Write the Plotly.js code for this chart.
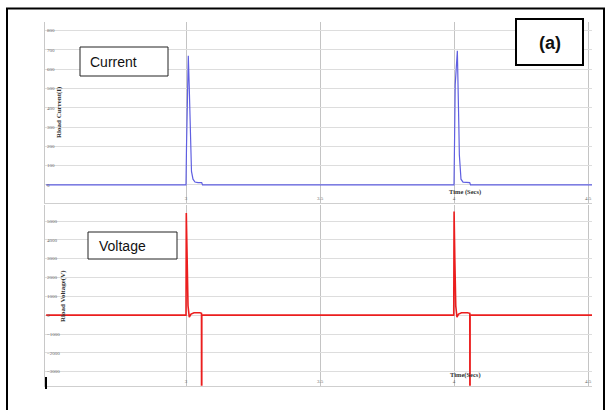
<!DOCTYPE html>
<html>
<head>
<meta charset="utf-8">
<script src="https://cdn.plot.ly/plotly-3.0.1.min.js"></script>
<style>html,body{margin:0;padding:0;background:#fff;}#chart{width:606px;height:410px;}</style>
</head>
<body>
<div id="chart"></div>
<script>
// Time axis (seconds)
var timeCurrent = [2.478, 3.000, 3.0019, 3.0045, 3.0086, 3.0123, 3.0149, 3.0175, 3.0205, 3.0261, 3.0336, 3.0448, 3.0586, 3.0616,
                   4.000, 4.0019, 4.0045, 4.0125, 4.0160, 4.0180, 4.0200, 4.0225, 4.0261, 4.0336, 4.0448, 4.0586, 4.0616, 4.515];
var rloadCurrent = [0, 0, 200, 500, 670, 500, 300, 150, 70, 30, 15, 12, 12, 0,
                    0, 210, 520, 695, 520, 310, 155, 72, 30, 15, 12, 12, 0, 0];

var timeVoltage = [2.478, 3.000, 3.0011, 3.0037, 3.0075, 3.0123, 3.0187, 3.0299, 3.0410, 3.0522, 3.0578, 3.0586, 3.0590,
                   3.9990, 4.0003, 4.0030, 4.0065, 4.0110, 4.0170, 4.0280, 4.0390, 4.0500, 4.0590, 4.0597, 4.0601, 4.515];
var rloadVoltage = [0, 0, 5425, 3000, 500, -106, 60, 130, 140, 130, 100, -20000, 0,
                    0, 5510, 3000, 500, -100, 60, 130, 140, 130, 100, -20000, 0, 0];

var xTickVals = [2.5, 3, 3.5, 4, 4.5];
var xTickText = ["2.5", "3", "3.5", "4", "4.5"];
var currentTicks = [0, 100, 200, 300, 400, 500, 600, 700, 800];
var voltageTicks = [-3000, -2000, -1000, 0, 1000, 2000, 3000, 4000, 5000];

var W = 606, H = 410;
function px(x){return x / W;}
function py(y){return 1 - y / H;}

var tickFont = {family: "Liberation Serif", size: 5, color: "#666"};

var traces = [
  {x: timeCurrent, y: rloadCurrent, type: "scatter", mode: "lines", xaxis: "x", yaxis: "y",
   line: {color: "rgb(95,95,225)", width: 1.2}, hoverinfo: "skip"},
  {x: timeVoltage, y: rloadVoltage, type: "scatter", mode: "lines", xaxis: "x2", yaxis: "y2",
   line: {color: "rgb(235,30,30)", width: 1.6}, hoverinfo: "skip"}
];

function xAxis(anchor, dom){
  return {domain: dom, anchor: anchor, range: [2.4739, 4.5149], tickmode: "array",
    tickvals: xTickVals, ticktext: xTickText, ticklabelposition: "inside",
    tickfont: tickFont, showgrid: true, gridcolor: "#c4c4c4", gridwidth: 1,
    zeroline: false, showline: true, linecolor: "#cfcfcf", linewidth: 1,
    ticks: "", fixedrange: true};
}
function yAxis(anchor, dom, rng, tv){
  return {domain: dom, anchor: anchor, range: rng, tickmode: "array", tickvals: tv,
    ticklabelposition: "inside", tickfont: tickFont, showgrid: true, gridcolor: "#dddddd",
    gridwidth: 1, zeroline: false, showline: true, linecolor: "#c8c8c8", linewidth: 1,
    ticks: "", fixedrange: true};
}

var layout = {
  width: W, height: H,
  margin: {l: 0, r: 0, t: 0, b: 0},
  paper_bgcolor: "#fff", plot_bgcolor: "#fff",
  showlegend: false,
  xaxis: xAxis("y", [px(45), px(592)]),
  yaxis: yAxis("x", [py(203.3), py(21.7)], [-95, 846], currentTicks),
  xaxis2: xAxis("y2", [px(45), px(592)]),
  yaxis2: yAxis("x2", [py(385.7), py(205)], [-3745, 5850], voltageTicks),
  shapes: [
    {type: "rect", xref: "paper", yref: "paper", x0: px(7), x1: px(604), y0: -0.2, y1: py(8.5),
     line: {color: "#000", width: 2}},
    {type: "rect", xref: "paper", yref: "paper", x0: px(80), x1: px(168), y0: py(76), y1: py(47),
     line: {color: "#222", width: 1}, fillcolor: "#fff"},
    {type: "rect", xref: "paper", yref: "paper", x0: px(88), x1: px(177), y0: py(259), y1: py(232),
     line: {color: "#222", width: 1}, fillcolor: "#fff"},
    {type: "rect", xref: "paper", yref: "paper", x0: px(516), x1: px(583), y0: py(65), y1: py(19),
     line: {color: "#000", width: 2}, fillcolor: "#fff"},
    {type: "line", xref: "paper", yref: "paper", x0: px(46), x1: px(46), y0: py(389), y1: py(377),
     line: {color: "#000", width: 2}}
  ],
  annotations: [
    {text: "Current", xref: "paper", yref: "paper", x: px(88), y: py(61.5), xanchor: "left", yanchor: "middle",
     showarrow: false, font: {family: "Liberation Sans", size: 14, color: "#111"}},
    {text: "Voltage", xref: "paper", yref: "paper", x: px(97), y: py(245.5), xanchor: "left", yanchor: "middle",
     showarrow: false, font: {family: "Liberation Sans", size: 14, color: "#111"}},
    {text: "<b>(a)</b>", xref: "paper", yref: "paper", x: px(549.5), y: py(43), xanchor: "center", yanchor: "middle",
     showarrow: false, font: {family: "Liberation Sans", size: 18, color: "#111"}},
    {text: "<b>Rload Current(I)</b>", xref: "paper", yref: "paper", x: px(59), y: py(112), xanchor: "center", yanchor: "middle",
     textangle: -90, showarrow: false, font: {family: "Liberation Serif", size: 7, color: "#333"}},
    {text: "<b>Rload Voltage(V)</b>", xref: "paper", yref: "paper", x: px(63), y: py(296), xanchor: "center", yanchor: "middle",
     textangle: -90, showarrow: false, font: {family: "Liberation Serif", size: 7, color: "#333"}},
    {text: "<b>Time (Secs)</b>", xref: "paper", yref: "paper", x: px(465), y: py(192.3), xanchor: "center", yanchor: "middle",
     showarrow: false, font: {family: "Liberation Serif", size: 6.5, color: "#333"}},
    {text: "<b>Time(Secs)</b>", xref: "paper", yref: "paper", x: px(465), y: py(374.7), xanchor: "center", yanchor: "middle",
     showarrow: false, font: {family: "Liberation Serif", size: 6.5, color: "#333"}}
  ]
};

Plotly.newPlot("chart", traces, layout, {displayModeBar: false, staticPlot: true});
</script>
</body>
</html>
